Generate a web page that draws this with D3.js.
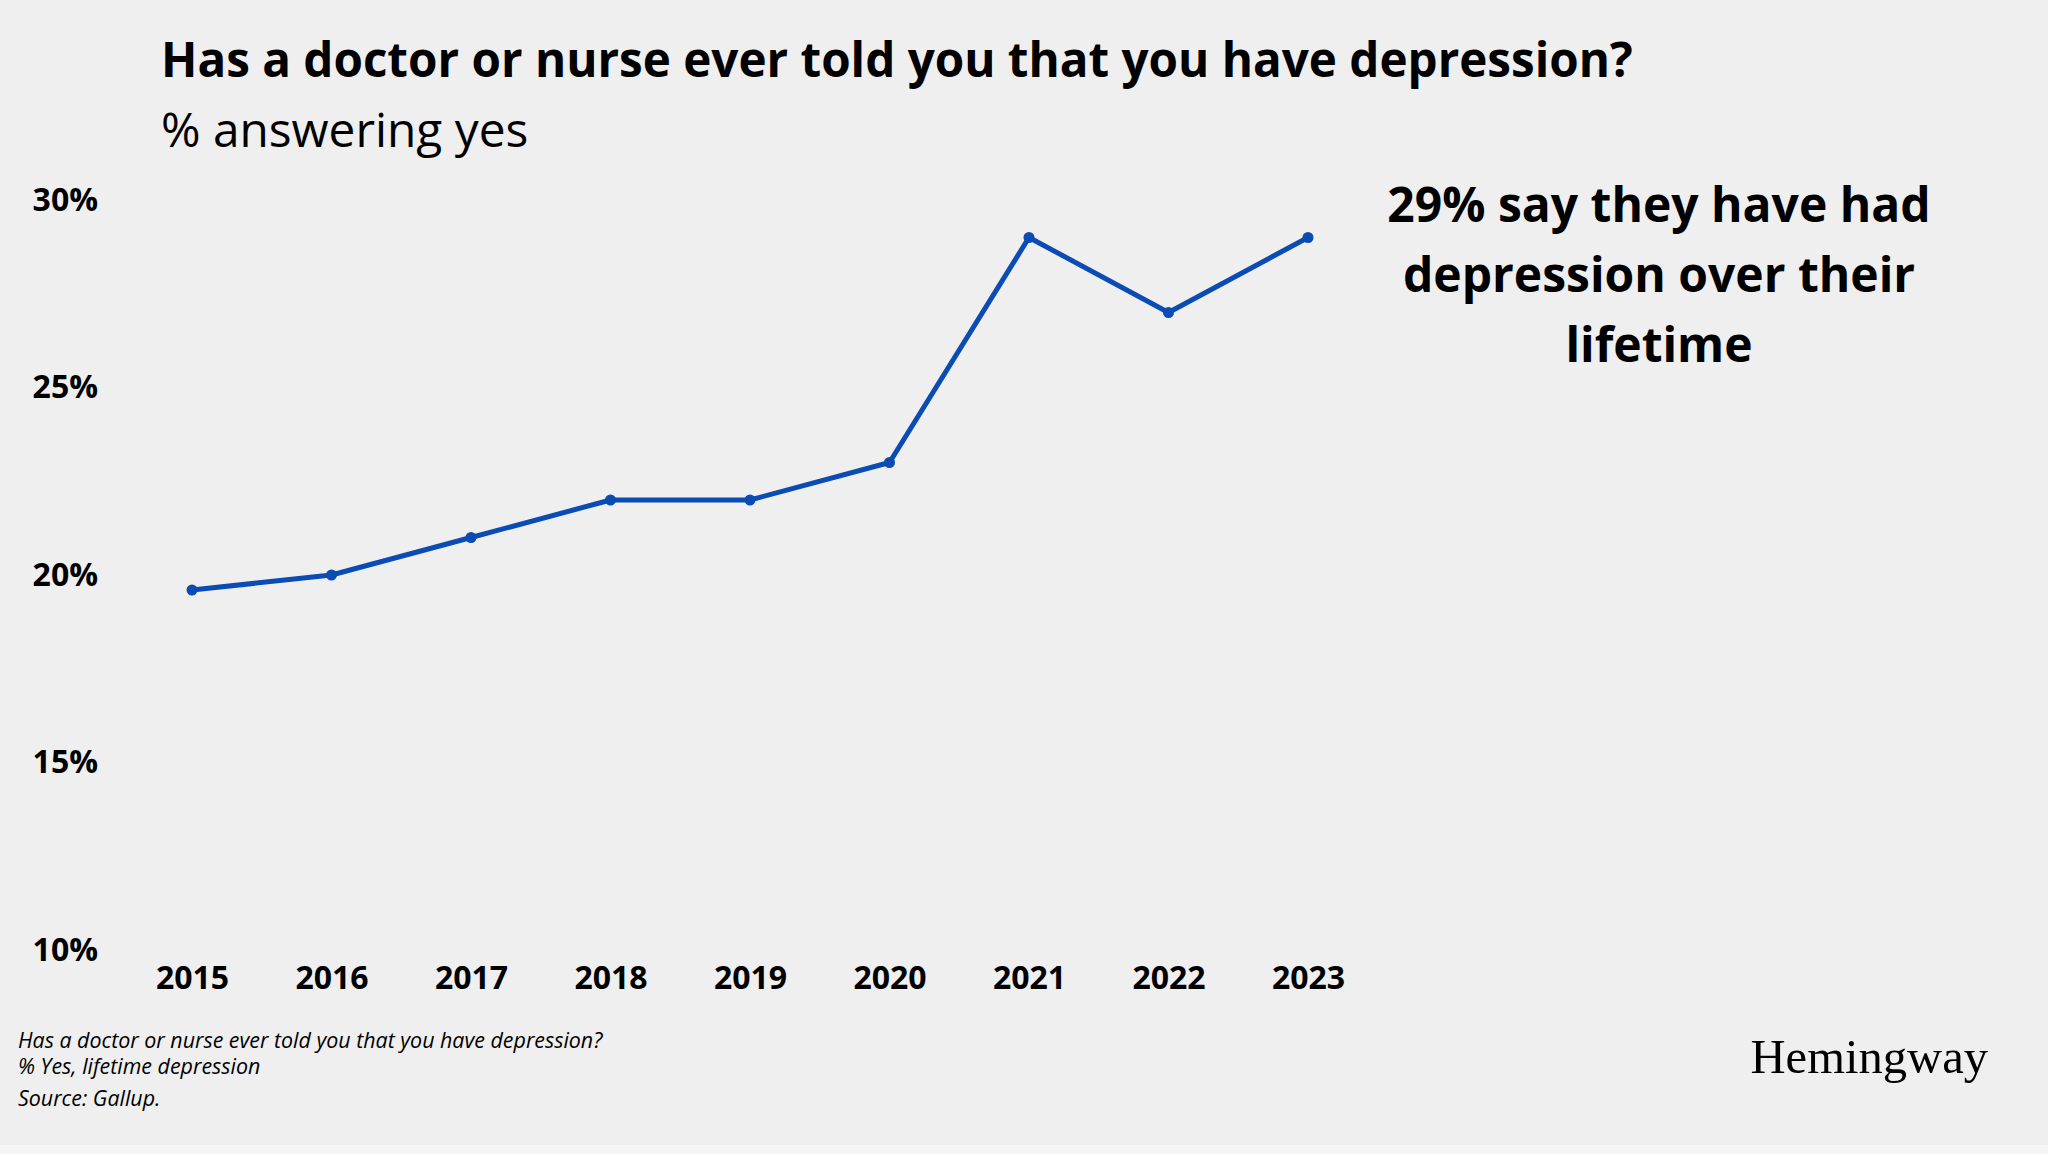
<!DOCTYPE html>
<html>
<head>
<meta charset="utf-8">
<script src="https://cdn.jsdelivr.net/npm/d3@7"></script>
<style>
  body { margin: 0; background: #efefef; }
  text { font-family: "Open Sans", "Noto Sans", sans-serif; fill: #000; }
</style>
</head>
<body>
<div id="chart"></div>
<script>
const years = [2015, 2016, 2017, 2018, 2019, 2020, 2021, 2022, 2023];
const values = [19.6, 20, 21, 22, 22, 23, 29, 27, 29];
const yTicks = [10, 15, 20, 25, 30];
const titleText = "Has a doctor or nurse ever told you that you have depression?";
const subtitleText = "% answering yes";
const noteLines = ["29% say they have had", "depression over their", "lifetime"];
const footLines = [
  "Has a doctor or nurse ever told you that you have depression?",
  "% Yes, lifetime depression",
  "Source: Gallup."
];

const width = 2048, height = 1154;

var svg = d3.select("#chart").append("svg")
    .attr("width", width)
    .attr("height", height);

svg.append("rect")
    .attr("width", width)
    .attr("height", height)
    .attr("fill", "#efefef");

// title block
svg.append("text")
    .attr("x", 161).attr("y", 77)
    .style("font-size", "47.6px").style("font-weight", 700)
    .text(titleText);
svg.append("text")
    .attr("x", 161).attr("y", 147)
    .style("font-size", "47.8px")
    .text(subtitleText);

const x = d3.scaleLinear()
    .domain([2015, 2023])
    .range([192, 1308]);

const y = d3.scaleLinear()
    .domain([10, 30])
    .range([950, 200]);

// y axis, labels only
const yAxis = svg.append("g")
    .attr("transform", "translate(98,0)")
    .call(d3.axisLeft(y).tickValues(yTicks).tickSize(0).tickPadding(0)
        .tickFormat(d => d + "%"));
yAxis.select(".domain").remove();
yAxis.selectAll("text")
    .style("font-family", "'Open Sans', sans-serif")
    .style("font-size", "32px").style("font-weight", 700).attr("fill", "#000");

// x axis, labels only
const xAxis = svg.append("g")
    .attr("transform", "translate(0,950)")
    .call(d3.axisBottom(x).tickValues(years).tickSize(0).tickPadding(16)
        .tickFormat(d3.format("d")));
xAxis.select(".domain").remove();
xAxis.selectAll("text")
    .style("font-family", "'Open Sans', sans-serif")
    .style("font-size", "32px").style("font-weight", 700).attr("fill", "#000");

const lineData = years.map((yr, i) => ({year: yr, value: values[i]}));

svg.append("path")
    .datum(lineData)
    .attr("fill", "none")
    .attr("stroke", "#0a4bb4")
    .attr("stroke-width", 5)
    .attr("stroke-linejoin", "round")
    .attr("d", d3.line()
        .x(d => x(d.year))
        .y(d => y(d.value)));

svg.append("g")
    .selectAll("circle")
    .data(lineData)
    .enter()
    .append("circle")
        .attr("cx", d => x(d.year))
        .attr("cy", d => y(d.value))
        .attr("r", 5.5)
        .attr("fill", "#0a4bb4");

// annotation
svg.append("g")
    .selectAll("text")
    .data(noteLines)
    .enter()
    .append("text")
        .attr("x", 1659)
        .attr("y", (d, i) => 222 + i * 70)
        .attr("text-anchor", "middle")
        .style("font-size", "48px").style("font-weight", 700)
        .text(d => d);

// footer notes
svg.append("g")
    .selectAll("text")
    .data(footLines)
    .enter()
    .append("text")
        .attr("x", 18)
        .attr("y", (d, i) => [1048, 1074, 1106][i])
        .style("font-size", "21.4px").style("font-style", "italic")
        .text(d => d);

svg.append("text")
    .attr("x", 1988).attr("y", 1073)
    .attr("text-anchor", "end")
    .style("font-family", "'Liberation Serif', 'DejaVu Serif', serif")
    .style("font-size", "48.6px")
    .text("Hemingway");

svg.append("rect")
    .attr("x", 0).attr("y", 1145)
    .attr("width", width).attr("height", 9)
    .attr("fill", "#f5f5f5");
</script>
</body>
</html>
